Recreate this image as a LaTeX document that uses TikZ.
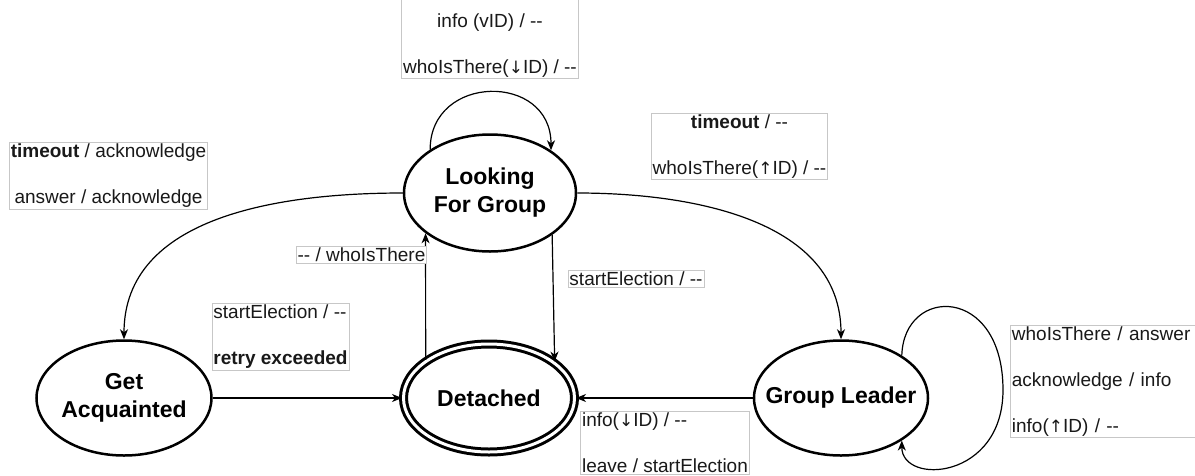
\documentclass[tikz,border=0pt]{standalone}
\usepackage{fontspec}
\setmainfont{Liberation Sans}
\newfontfamily\arrowfont{DejaVu Sans}
\newcommand\dnarr{{\arrowfont\fontsize{17}{23}\selectfont ↓}}
\newcommand\uparr{{\arrowfont\fontsize{17}{23}\selectfont ↑}}
\usetikzlibrary{positioning,shapes.geometric,arrows.meta}

\begin{document}
\begin{tikzpicture}[
    x=1pt, y=-1pt,
    state/.style={ellipse, draw=black, line width=2.5pt, align=center,
        inner xsep=-20pt, inner ysep=0pt,
        font=\fontsize{23}{28}\selectfont\bfseries},
    endstate/.style={state, double=white, double distance=3pt, line width=3pt},
    trans/.style={draw=black, line width=1.2pt,
        -{Stealth[length=10pt,width=8pt,inset=3pt]}},
    guard/.style={draw=black!22, line width=0.8pt, fill=white, inner sep=1.5pt,
        align=center, text=black!90, font=\fontsize{19}{23}\selectfont}
]
\useasboundingbox (0,0) rectangle (1195,475);

% States
\node[state, minimum width=172pt, minimum height=117pt] (lfg) at (490,193) {Looking\\For Group};
\node[state, minimum width=175pt, minimum height=115pt] (ga) at (124,398) {Get\\Acquainted};
\node[endstate, minimum width=171pt, minimum height=108pt] (det) at (489,398) {Detached};
\node[state, minimum width=174pt, minimum height=115pt] (gl) at (841,398) {Group Leader};
\coordinate (glloop) at (1003,390);

% Transitions
\draw[trans] (lfg.144) .. controls +(0,-76) and +(0,-78) .. (lfg.35);
\draw[trans] (lfg.west) .. controls +(-123,0) and +(0,-123) .. (ga.north);
\draw[trans] (lfg.east) .. controls +(118,0) and +(0,-118) .. (gl.north);
\draw[trans] (det.149) -- (lfg.212);
\draw[trans] (lfg.326) -- (det.29);
\draw[trans] (ga.east) -- (det.west);
\draw[trans] (gl.west) -- (det.east);
\draw[trans] (gl.35) .. controls +(2,-70) and +(0,-105) .. (glloop)
    .. controls +(0,90) and +(0,45) .. (gl.325);

% Guards
\node[guard, anchor=south] (lfgself) at (490,79) {\mbox{}\\[23pt]info (vID) / -{}-\\[23pt]whoIsThere(\dnarr ID) / -{}-};
\node[guard] (toga) at (108.5,176) {\textbf{timeout} / acknowledge\\[23pt]answer / acknowledge};
\node[guard] (togl) at (739.5,146.5) {\textbf{timeout} / -{}-\\[23pt]whoIsThere(\uparr ID) / -{}-};
\node[guard] (uplfg) at (361.5,254.5) {-{}- / whoIsThere};
\node[guard] (downdet) at (636,279) {startElection / -{}-};
\node[guard, align=left] (gadet) at (280.5,337) {startElection / -{}-\\[23pt]\textbf{retry exceeded}};
\node[guard, align=left] (gldet) at (665,443) {info(\dnarr ID) / -{}-\\[23pt]leave / startElection};
\node[guard, align=left, text width=195pt, anchor=west] (glself) at (1010,381.5) {whoIsThere / answer\\[23pt]acknowledge / info\\[23pt]info(\uparr ID) / -{}-};

\end{tikzpicture}
\end{document}
